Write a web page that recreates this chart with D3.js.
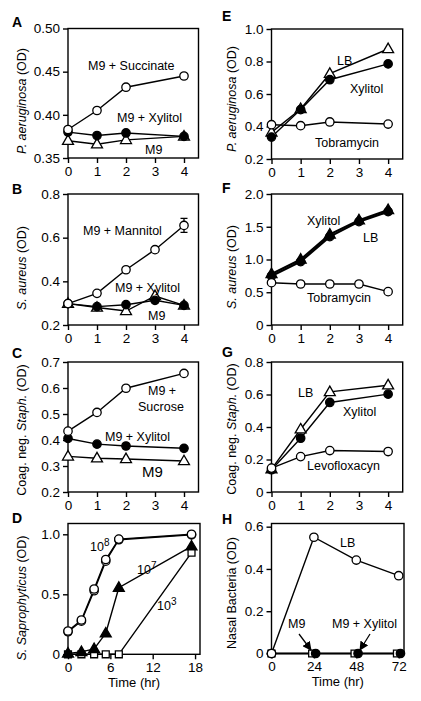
<!DOCTYPE html>
<html><head><meta charset="utf-8">
<script src="https://cdn.jsdelivr.net/npm/d3@7"></script>
<style>body{margin:0;background:#fff} text{font-family:"Liberation Sans",Arial,Helvetica,sans-serif;fill:#000}</style>
</head><body><svg id="c" width="421" height="701"></svg>
<script>
// ---------- data ----------
const hoursA = [0, 1, 2, 4];
const aSuccinate = [0.383, 0.405, 0.432, 0.445];
const aXylitol = [0.380, 0.376, 0.379, 0.375];
const aM9 = [0.370, 0.366, 0.371, 0.375];

const hoursB = [0, 1, 2, 3, 4];
const bMannitol = [0.298, 0.345, 0.453, 0.545, 0.656];
const bMannitolErr = [0, 0, 0, 0, 0.032];
const bXylitol = [0.298, 0.284, 0.293, 0.313, 0.290];
const bM9 = [0.298, 0.280, 0.264, 0.333, 0.290];

const hoursC = [0, 1, 2, 4];
const cSucrose = [0.434, 0.506, 0.599, 0.656];
const cXylitol = [0.406, 0.384, 0.377, 0.368];
const cM9 = [0.337, 0.330, 0.327, 0.319];

const hoursD = [0, 1.9, 3.7, 5.35, 7.2, 17.5];
const d1e8a = [0.194, 0.286, 0.544, 0.790, 0.960, 1.0];
const d1e8b = [0.188, 0.276, 0.530, 0.776, 0.955, 0.995];
const d1e7 = [0.008, 0.02, 0.045, 0.175, 0.555, 0.90];
const d1e3 = [0, 0, 0, 0, 0, 0.847];

const hoursE = [0, 1, 2, 4];
const eLB = [0.364, 0.508, 0.725, 0.877];
const eXylitol = [0.335, 0.504, 0.688, 0.785];
const eTobramycin = [0.411, 0.405, 0.428, 0.415];

const hoursF = [0, 1, 2, 3, 4];
const fXylitol = [0.748, 0.967, 1.349, 1.578, 1.73];
const fLB = [0.779, 1.0, 1.384, 1.60, 1.756];
const fTobramycin = [0.646, 0.626, 0.626, 0.626, 0.509];

const hoursG = [0, 1, 2, 4];
const gLB = [0.141, 0.386, 0.616, 0.657];
const gXylitol = [0.137, 0.331, 0.551, 0.602];
const gLevofloxacyn = [0.147, 0.218, 0.255, 0.249];

const hoursH = [0, 24, 48, 72];
const hLB = [0, 0.55, 0.442, 0.368];
const hoursHM9 = [0, 23, 47, 71];
const hM9 = [0, 0, 0, 0];
const hoursHXylitol = [0, 25, 49, 73];
const hXylitol = [0, 0, 0, 0];

const ticks4 = [0, 1, 2, 3, 4];
const ticksA = [0.35, 0.40, 0.45, 0.50];
const ticksB = [0.2, 0.4, 0.6, 0.8];
const ticksC = [0.2, 0.3, 0.4, 0.5, 0.6, 0.7];
const ticksDx = [0, 6, 12, 18];
const ticksDy = [0, 0.5, 1.0];
const ticksE = [0.2, 0.4, 0.6, 0.8, 1.0];
const ticksF = [0, 0.5, 1.0, 1.5, 2.0];
const ticksG = [0, 0.2, 0.4, 0.6, 0.8];
const ticksHx = [0, 24, 48, 72];
const ticksHy = [0, 0.2, 0.4, 0.6];

// ---------- drawing ----------
const svg = d3.select("#c");
const FS_TICK = 13.5, FS_LAB = 12.5;
const fmt1 = d => d === 0 ? "0" : d3.format(".1f")(d);
const fmt2 = d3.format(".2f");

svg.append("defs").append("marker")
  .attr("id", "arr").attr("viewBox", "0 0 10 10").attr("refX", 9).attr("refY", 5)
  .attr("markerWidth", 7).attr("markerHeight", 7).attr("orient", "auto")
  .append("path").attr("d", "M0,0L10,5L0,10z").attr("fill", "#000");

function panel(c) {
  const g = svg.append("g");
  const x = d3.scaleLinear().domain(c.xd).range(c.xr);
  const y = d3.scaleLinear().domain(c.yd).range(c.yr);
  g.append("rect").attr("x", c.xr[0]).attr("y", c.yr[1])
    .attr("width", c.xr[1] - c.xr[0]).attr("height", c.yr[0] - c.yr[1])
    .attr("fill", "none").attr("stroke", "#000").attr("stroke-width", 1.4);
  const ax = g.append("g").attr("transform", `translate(0,${c.yr[0]})`)
    .call(d3.axisBottom(x).tickValues(c.xt).tickFormat(c.xf || (d => d)).tickSize(5).tickPadding(3));
  const ay = g.append("g").attr("transform", `translate(${c.xr[0]},0)`)
    .call(d3.axisLeft(y).tickValues(c.yt).tickFormat(c.yf).tickSize(5).tickPadding(3));
  [ax, ay].forEach(a => {
    a.select(".domain").remove();
    a.selectAll("line").attr("stroke-width", 1.4);
    a.selectAll("text").style("font-size", FS_TICK + "px").style("font-family", "'Liberation Sans',Arial,sans-serif");
  });
  // lines
  c.series.forEach(s => {
    const pts = s.xs.map((v, i) => [x(v), y(s.ys[i])]);
    g.append("path").attr("d", d3.line()(pts)).attr("fill", "none")
      .attr("stroke", "#000").attr("stroke-width", s.lw || 1.4);
  });
  // error bars
  c.series.forEach(s => {
    if (!s.err) return;
    s.xs.forEach((v, i) => {
      if (!s.err[i]) return;
      const cx = x(v), y1 = y(s.ys[i] - s.err[i]), y2 = y(s.ys[i] + s.err[i]);
      g.append("path").attr("d", `M${cx},${y1}V${y2}M${cx - 3.5},${y1}H${cx + 3.5}M${cx - 3.5},${y2}H${cx + 3.5}`)
        .attr("stroke", "#000").attr("stroke-width", 1.3).attr("fill", "none");
    });
  });
  // markers
  c.series.forEach(s => {
    s.xs.forEach((v, i) => {
      const cx = x(v), cy = y(s.ys[i]);
      let m;
      if (s.m === "circle") {
        m = g.append("circle").attr("cx", cx).attr("cy", cy).attr("r", 4.2);
      } else if (s.m === "triangle") {
        m = g.append("path").attr("d", d3.symbol(d3.symbolTriangle, 52)())
          .attr("transform", `translate(${cx},${cy + 0.5})`);
      } else {
        m = g.append("path").attr("d", d3.symbol(d3.symbolSquare, 48)())
          .attr("transform", `translate(${cx},${cy})`);
      }
      m.attr("fill", s.fill).attr("stroke", "#000").attr("stroke-width", 1.3);
    });
  });
  // panel letter
  g.append("text").attr("x", c.letter[1]).attr("y", c.letter[2]).text(c.letter[0])
    .style("font-weight", "bold").style("font-size", "14px");
  // axis title
  const t = g.append("text").attr("transform", `translate(${c.title.x},${c.title.y}) rotate(-90)`)
    .attr("text-anchor", "middle").style("font-size", FS_LAB + "px");
  c.title.parts.forEach(p => t.append("tspan").text(p[0]).style("font-style", p[1] ? "italic" : "normal"));
  // x title
  if (c.xtitle) {
    g.append("text").attr("x", (c.xr[0] + c.xr[1]) / 2).attr("y", c.xtitle)
      .attr("text-anchor", "middle").style("font-size", (FS_LAB + 0.5) + "px").text("Time (hr)");
  }
  // labels
  (c.labels || []).forEach(l => {
    const tx = g.append("text").attr("x", l.x).attr("y", l.y).style("font-size", (l.fs || FS_LAB) + "px");
    if (l.sup) {
      tx.append("tspan").text(l.t);
      tx.append("tspan").text(l.sup).attr("dy", -5).style("font-size", "10px");
    } else tx.text(l.t);
  });
  (c.arrows || []).forEach(a => {
    g.append("line").attr("x1", a[0]).attr("y1", a[1]).attr("x2", a[2]).attr("y2", a[3])
      .attr("stroke", "#000").attr("stroke-width", 1.3).attr("marker-end", "url(#arr)");
  });
}

const LX = [68, 198.5], RX = [271.5, 402.7];

panel({
  xd: [0, 4.5], xr: LX, yd: [0.35, 0.50], yr: [158, 28.5], xt: ticks4, yt: ticksA, yf: fmt2,
  series: [
    { xs: hoursA, ys: aM9, m: "triangle", fill: "#fff" },
    { xs: hoursA, ys: aXylitol, m: "circle", fill: "#000" },
    { xs: hoursA, ys: aSuccinate, m: "circle", fill: "#fff" }
  ],
  letter: ["A", 12, 27], title: { x: 26, y: 101, parts: [["P. aeruginosa", 1], [" (OD)", 0]] },
  labels: [{ t: "M9 + Succinate", x: 88, y: 70 }, { t: "M9 + Xylitol", x: 117, y: 122 }, { t: "M9", x: 145, y: 154 }]
});

panel({
  xd: [0, 4.5], xr: LX, yd: [0.2, 0.8], yr: [325, 194], xt: ticks4, yt: ticksB, yf: fmt1,
  series: [
    { xs: hoursB, ys: bM9, m: "triangle", fill: "#fff" },
    { xs: hoursB, ys: bXylitol, m: "circle", fill: "#000" },
    { xs: hoursB, ys: bMannitol, m: "circle", fill: "#fff", err: bMannitolErr }
  ],
  letter: ["B", 12, 194], title: { x: 26, y: 268, parts: [["S. aureus", 1], [" (OD)", 0]] },
  labels: [{ t: "M9 + Mannitol", x: 83, y: 235 }, { t: "M9 + Xylitol", x: 115, y: 292 }, { t: "M9", x: 148, y: 320 }]
});

panel({
  xd: [0, 4.5], xr: LX, yd: [0.2, 0.7], yr: [492, 362], xt: ticks4, yt: ticksC, yf: fmt1,
  series: [
    { xs: hoursC, ys: cM9, m: "triangle", fill: "#fff" },
    { xs: hoursC, ys: cXylitol, m: "circle", fill: "#000" },
    { xs: hoursC, ys: cSucrose, m: "circle", fill: "#fff" }
  ],
  letter: ["C", 12, 358], title: { x: 26, y: 430, parts: [["Coag. neg. ", 0], ["Staph.", 1], [" (OD)", 0]] },
  labels: [{ t: "M9 +", x: 148, y: 395 }, { t: "Sucrose", x: 138, y: 411 }, { t: "M9 + Xylitol", x: 105, y: 441 },
           { t: "M9", x: 142, y: 477, fs: 15 }]
});

panel({
  xd: [0, 18.7], xr: [68, 200], yd: [0, 1.09], yr: [654.3, 523.5], xt: ticksDx, yt: ticksDy, yf: fmt1,
  series: [
    { xs: hoursD, ys: d1e3, m: "square", fill: "#fff" },
    { xs: hoursD, ys: d1e7, m: "triangle", fill: "#000" },
    { xs: hoursD, ys: d1e8b, m: "circle", fill: "#fff" },
    { xs: hoursD, ys: d1e8a, m: "circle", fill: "#fff" }
  ],
  letter: ["D", 12, 523], title: { x: 26, y: 598, parts: [["S. Saprophyticus", 1], [" (OD)", 0]] },
  xtitle: 687,
  labels: [{ t: "10", sup: "8", x: 90, y: 551 }, { t: "10", sup: "7", x: 137, y: 574 }, { t: "10", sup: "3", x: 157, y: 610 }]
});

panel({
  xd: [0, 4.5], xr: RX, yd: [0.2, 1.0], yr: [159, 29], xt: ticks4, yt: ticksE, yf: fmt1,
  series: [
    { xs: hoursE, ys: eLB, m: "triangle", fill: "#fff" },
    { xs: hoursE, ys: eXylitol, m: "circle", fill: "#000" },
    { xs: hoursE, ys: eTobramycin, m: "circle", fill: "#fff" }
  ],
  letter: ["E", 222, 21], title: { x: 236, y: 99, parts: [["P. aeruginosa", 1], [" (OD)", 0]] },
  labels: [{ t: "LB", x: 337, y: 65 }, { t: "Xylitol", x: 350, y: 93 }, { t: "Tobramycin", x: 315, y: 147 }]
});

panel({
  xd: [0, 4.5], xr: RX, yd: [0, 2.0], yr: [325, 194], xt: ticks4, yt: ticksF, yf: fmt1,
  series: [
    { xs: hoursF, ys: fLB, m: "triangle", fill: "#000", lw: 2.2 },
    { xs: hoursF, ys: fXylitol, m: "circle", fill: "#000", lw: 2.2 },
    { xs: hoursF, ys: fTobramycin, m: "circle", fill: "#fff" }
  ],
  letter: ["F", 222, 193], title: { x: 236, y: 267, parts: [["S. aureus", 1], [" (OD)", 0]] },
  labels: [{ t: "Xylitol", x: 307, y: 225 }, { t: "LB", x: 363, y: 242 }, { t: "Tobramycin", x: 307, y: 302 }]
});

panel({
  xd: [0, 4.5], xr: RX, yd: [0, 0.8], yr: [492, 362], xt: ticks4, yt: ticksG, yf: fmt1,
  series: [
    { xs: hoursG, ys: gLB, m: "triangle", fill: "#fff" },
    { xs: hoursG, ys: gXylitol, m: "circle", fill: "#000" },
    { xs: hoursG, ys: gLevofloxacyn, m: "circle", fill: "#fff" }
  ],
  letter: ["G", 222, 357], title: { x: 236, y: 429, parts: [["Coag. neg. ", 0], ["Staph.", 1], [" (OD)", 0]] },
  labels: [{ t: "LB", x: 298, y: 397 }, { t: "Xylitol", x: 343, y: 416 }, { t: "Levofloxacyn", x: 307, y: 470 }]
});

panel({
  xd: [0, 75], xr: [271.5, 404], yd: [0, 0.615], yr: [653.5, 523.5], xt: ticksHx, yt: ticksHy, yf: fmt1,
  series: [
    { xs: hoursHM9, ys: hM9, m: "square", fill: "#fff" },
    { xs: hoursHXylitol, ys: hXylitol, m: "circle", fill: "#000" },
    { xs: hoursH, ys: hLB, m: "circle", fill: "#fff" }
  ],
  letter: ["H", 222, 524], title: { x: 236, y: 593, parts: [["Nasal Bacteria (OD)", 0]] },
  xtitle: 686,
  labels: [{ t: "LB", x: 340, y: 547 }, { t: "M9", x: 288, y: 628 }, { t: "M9 + Xylitol", x: 332, y: 628 }],
  arrows: [[299, 634, 311, 650], [370, 634, 360, 650]]
});
</script></body></html>
